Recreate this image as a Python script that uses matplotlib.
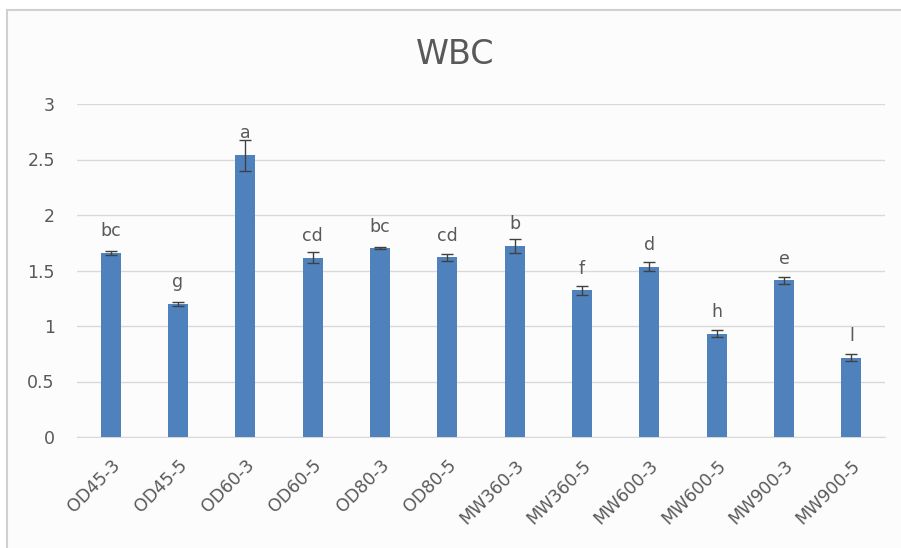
import matplotlib.pyplot as plt
from matplotlib.patches import Rectangle

groups = ['OD45-3', 'OD45-5', 'OD60-3', 'OD60-5', 'OD80-3', 'OD80-5',
          'MW360-3', 'MW360-5', 'MW600-3', 'MW600-5', 'MW900-3', 'MW900-5']
wbc = [1.66, 1.20, 2.54, 1.615, 1.70, 1.62, 1.72, 1.32, 1.535, 0.93, 1.41, 0.715]
err = [0.02, 0.02, 0.14, 0.05, 0.01, 0.03, 0.06, 0.04, 0.04, 0.03, 0.03, 0.03]
letters = ['bc', 'g', 'a', 'cd', 'bc', 'cd', 'b', 'f', 'd', 'h', 'e', 'l']

txt = '#595959'
fig = plt.figure(figsize=(9.01, 5.48), dpi=100)
fig.patches.append(Rectangle((7/901, -0.1), 1.2, (538/548) + 0.1, transform=fig.transFigure,
                             facecolor='#fcfcfc', edgecolor='#d0d0d0', lw=1.5, zorder=-10))
ax = fig.add_axes([77/901, 111/548, 808/901, 333/548])
ax.set_facecolor('none')

x = range(len(groups))
ax.bar(x, wbc, width=0.3, color='#4f81bd', yerr=err, zorder=3,
       error_kw=dict(ecolor='#404040', elinewidth=1, capsize=4, capthick=1))
for i, (v, lab) in enumerate(zip(wbc, letters)):
    ax.annotate(lab, (i, v), xytext=(0, 12), textcoords='offset points',
                ha='center', va='baseline', fontsize=12.5, color=txt)

ax.set_xlim(-0.5, len(groups) - 0.5)
ax.set_ylim(0, 3)
ax.set_yticks([0, 0.5, 1, 1.5, 2, 2.5, 3])
ax.set_yticklabels(['0', '0.5', '1', '1.5', '2', '2.5', '3'])
ax.set_xticks(list(x))
ax.set_xticklabels(groups, rotation=45, ha='right', rotation_mode='anchor')
ax.tick_params(length=0, labelsize=12.5, colors=txt)
ax.tick_params(axis='y', pad=16)
ax.tick_params(axis='x', pad=14)
ax.grid(axis='y', color='#d9d9d9', lw=1, zorder=0)
for s in ['top', 'right', 'left']:
    ax.spines[s].set_visible(False)
ax.spines['bottom'].set_color('#d9d9d9')
fig.text(455/901, 1 - 54/548, 'WBC', fontsize=24, color=txt, ha='center', va='center')

fig.savefig('out.png', dpi=100)
